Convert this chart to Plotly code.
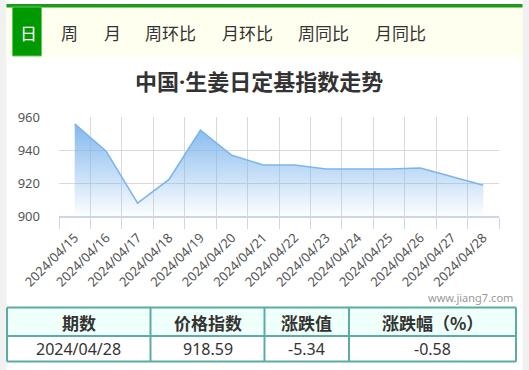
import plotly.graph_objects as go

# ---- data ----
dates = ["2024/04/15", "2024/04/16", "2024/04/17", "2024/04/18", "2024/04/19",
         "2024/04/20", "2024/04/21", "2024/04/22", "2024/04/23", "2024/04/24",
         "2024/04/25", "2024/04/26", "2024/04/27", "2024/04/28"]
index_values = [955.8, 939.3, 907.8, 922.2, 952.0, 936.8, 930.9,
                930.9, 928.5, 928.5, 928.5, 929.1, 923.93, 918.59]
y_ticks = [900, 920, 940, 960]
tabs = ["日", "周", "月", "周环比", "月环比", "周同比", "月同比"]
title_parts = ["中国", "·", "生姜日定基指数走势"]
table_header = ["期数", "价格指数", "涨跌值", "涨跌幅（%）"]
table_row = ["2024/04/28", "918.59", "-5.34", "-0.58"]
watermark = "www.jiang7.com"

# ---- geometry helpers (pixel -> paper) ----
W, H = 529, 370
L, R, T, B = 59, 499, 117, 216
def X(px):
    return (px - L) / (R - L)
def Y(py):
    return (B - py) / (B - T)

CJK = "Noto Sans CJK SC"

fig = go.Figure()
fig.add_trace(go.Scatter(
    x=dates, y=index_values, mode="lines",
    line=dict(color="#7cb5ec", width=1.6),
    fill="tozeroy",
    fillgradient=dict(type="vertical", start=min(y_ticks), stop=max(index_values),
                      colorscale=[[0, "rgba(124,181,236,0.02)"], [1, "rgba(124,181,236,0.95)"]]),
    hoverinfo="skip", showlegend=False,
))

shapes = []
annotations = []

# page side strips
shapes.append(dict(type="rect", xref="paper", yref="paper", x0=X(0), x1=X(6.5), y0=Y(370), y1=Y(0),
                   fillcolor="#f1f1f1", line=dict(width=0), layer="below"))
shapes.append(dict(type="rect", xref="paper", yref="paper", x0=X(522.5), x1=X(529), y0=Y(370), y1=Y(0),
                   fillcolor="#f1f1f1", line=dict(width=0), layer="below"))
# tab bar
shapes.append(dict(type="rect", xref="paper", yref="paper", x0=X(6.5), x1=X(522.5), y0=Y(57), y1=Y(7),
                   fillcolor="#fffff0", line=dict(width=0)))
shapes.append(dict(type="rect", xref="paper", yref="paper", x0=X(6.5), x1=X(522.5), y0=Y(7.5), y1=Y(4),
                   fillcolor="#1b9a1b", line=dict(width=0)))
shapes.append(dict(type="rect", xref="paper", yref="paper", x0=X(12.5), x1=X(41.5), y0=Y(56), y1=Y(7),
                   fillcolor="#009900", line=dict(color="#5fcf5f", width=1)))
tab_x = [28, 69, 112, 170, 247, 323, 400]
for i, t in enumerate(tabs):
    annotations.append(dict(x=X(tab_x[i]), y=Y(32), xref="paper", yref="paper", text=t, showarrow=False,
                            font=dict(family=CJK, size=17, color="#ffffff" if i == 0 else "#333333"),
                            xanchor="center", yanchor="middle"))
# title (narrow middle dot from a Latin font)
title_html = ("<b>" + title_parts[0]
              + "<span style='font-family:Noto Sans'>" + title_parts[1] + "</span>"
              + title_parts[2] + "</b>")
annotations.append(dict(x=X(259), y=Y(80), xref="paper", yref="paper", text=title_html,
                        showarrow=False, font=dict(family=CJK, size=22, color="#333333"),
                        xanchor="center", yanchor="middle"))
# watermark
annotations.append(dict(x=X(470), y=Y(297), xref="paper", yref="paper", text=watermark, showarrow=False,
                        font=dict(family="Noto Sans", size=11, color="#999999"),
                        xanchor="center", yanchor="middle"))

# table
col_edges = [7, 150.5, 264.5, 349, 516]
row_edges = [307.5, 336, 361.5]
shapes.append(dict(type="rect", xref="paper", yref="paper", x0=X(col_edges[0]), x1=X(col_edges[-1]),
                   y0=Y(row_edges[1]), y1=Y(row_edges[0]), fillcolor="#effff9", line=dict(width=0)))
for cx in col_edges:
    shapes.append(dict(type="line", xref="paper", yref="paper", x0=X(cx), x1=X(cx),
                       y0=Y(row_edges[-1]), y1=Y(row_edges[0]), line=dict(color="#5aaca4", width=2)))
for ry in row_edges:
    shapes.append(dict(type="line", xref="paper", yref="paper", x0=X(col_edges[0]), x1=X(col_edges[-1]),
                       y0=Y(ry), y1=Y(ry), line=dict(color="#5aaca4", width=2)))
for i in range(4):
    cx = (col_edges[i] + col_edges[i + 1]) / 2
    annotations.append(dict(x=X(cx), y=Y(322), xref="paper", yref="paper", text="<b>" + table_header[i] + "</b>",
                            showarrow=False, font=dict(family=CJK, size=17, color="#333333"),
                            xanchor="center", yanchor="middle"))
    annotations.append(dict(x=X(cx), y=Y(349), xref="paper", yref="paper", text=table_row[i],
                            showarrow=False, font=dict(family="Noto Sans", size=16, color="#333333"),
                            xanchor="center", yanchor="middle"))

fig.update_layout(
    width=W, height=H,
    margin=dict(l=L, r=W - R, t=T, b=H - B, pad=0),
    paper_bgcolor="#ffffff", plot_bgcolor="#ffffff",
    shapes=shapes, annotations=annotations,
    xaxis=dict(
        type="category", range=[-0.5, len(dates) - 0.5],
        tickson="boundaries", ticks="outside", ticklen=11, tickcolor="#ccd6eb", tickwidth=1,
        showgrid=True, gridcolor="#dadada", gridwidth=1,
        showline=True, linecolor="#ccd6eb", linewidth=2,
        tickangle=-45, tickfont=dict(family="Noto Sans", size=13, color="#555555"),
        ticklabelstandoff=7, zeroline=False, fixedrange=True,
    ),
    yaxis=dict(
        range=[min(y_ticks), max(y_ticks)], tickvals=y_ticks,
        showgrid=True, gridcolor="#dadada", gridwidth=1,
        ticks="", ticklabelstandoff=18,
        tickfont=dict(family="Noto Sans", size=13, color="#555555"),
        zeroline=False, showline=False, fixedrange=True,
    ),
)

fig.write_html("out.html")
